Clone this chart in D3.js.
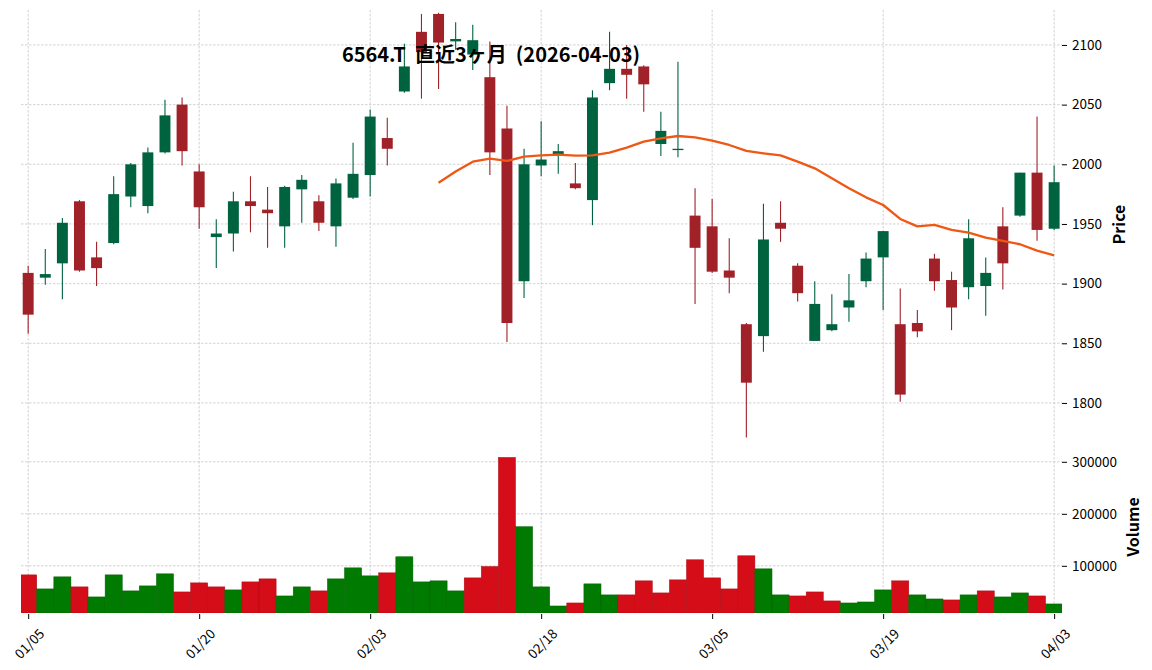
<!DOCTYPE html>
<html>
<head>
<meta charset="utf-8">
<script src="https://cdn.jsdelivr.net/npm/d3@7"></script>
<style>
  html, body { margin: 0; padding: 0; background: #fff; }
  svg { display: block; font-family: "Noto Sans CJK JP", "Noto Sans", sans-serif; }
</style>
</head>
<body>
<svg id="chart" width="1152" height="670"></svg>
<script>
const title = "6564.T  直近3ヶ月  (2026-04-03)";

const dates = [
  "01/05","01/06","01/07","01/08","01/09","01/13","01/14","01/15","01/16","01/19",
  "01/20","01/21","01/22","01/23","01/26","01/27","01/28","01/29","01/30","02/02",
  "02/03","02/04","02/05","02/06","02/09","02/10","02/12","02/13","02/16","02/17",
  "02/18","02/19","02/20","02/24","02/25","02/26","02/27","03/02","03/03","03/04",
  "03/05","03/06","03/09","03/10","03/11","03/12","03/13","03/16","03/17","03/18",
  "03/19","03/23","03/24","03/25","03/26","03/27","03/30","03/31","04/01","04/02",
  "04/03"
];

const opens = [
  1909, 1905, 1917, 1969, 1922, 1934, 1973, 1965, 2010, 2050,
  1994, 1939, 1942, 1969, 1962, 1948, 1979, 1969, 1948, 1972,
  1991, 2022, 2061, 2111, 2126, 2103, 2092, 2073, 2030, 1902,
  1999, 2008, 1984, 1970, 2068, 2080, 2082, 2017, 2012, 1957,
  1948, 1911, 1866, 1856, 1951, 1915, 1852, 1861, 1880, 1902,
  1922, 1866, 1867, 1921, 1903, 1897, 1898, 1948, 1957, 1993,
  1946
];
const highs = [
  1915, 1929, 1955, 1970, 1935, 1990, 2001, 2014, 2054, 2056,
  2000, 1954, 1977, 1990, 1981, 1982, 1991, 1974, 1988, 2018,
  2046, 2039, 2101, 2126, 2127, 2119, 2117, 2103, 2049, 2013,
  2036, 2017, 2001, 2062, 2111, 2100, 2083, 2044, 2086, 1980,
  1971, 1938, 1867, 1967, 1969, 1917, 1902, 1891, 1908, 1926,
  1944, 1896, 1878, 1925, 1910, 1954, 1922, 1964, 1993, 2040,
  1999
];
const lows = [
  1858, 1899, 1887, 1910, 1898, 1933, 1964, 1959, 2009, 1999,
  1946, 1913, 1927, 1943, 1930, 1930, 1951, 1944, 1931, 1971,
  1973, 1999, 2060, 2055, 2063, 2096, 2079, 1991, 1851, 1888,
  1990, 1992, 1979, 1949, 2062, 2055, 2044, 2007, 2006, 1883,
  1909, 1892, 1771, 1843, 1935, 1885, 1852, 1860, 1868, 1897,
  1878, 1801, 1855, 1894, 1861, 1887, 1873, 1895, 1956, 1936,
  1945
];
const closes = [
  1874, 1908, 1951, 1911, 1913, 1975, 2000, 2010, 2041, 2011,
  1964, 1942, 1969, 1965, 1959, 1981, 1987, 1951, 1984, 1992,
  2040, 2013, 2082, 2094, 2102, 2105, 2104, 2010, 1867, 2000,
  2004, 2011, 1980, 2056, 2080, 2075, 2067, 2028, 2013, 1930,
  1910, 1905, 1817, 1937, 1946, 1892, 1883, 1866, 1886, 1921,
  1944, 1807, 1860, 1902, 1880, 1938, 1909, 1917, 1993, 1945,
  1985
];
const volumes = [
  82600, 55600, 78800, 59500, 40200, 82600, 51800, 61400, 84600, 49800,
  67200, 59500, 53700, 69100, 74900, 42100, 59500, 51800, 74900, 96100,
  80700, 86500, 117400, 69100, 71100, 51800, 76800, 98700, 308400, 175200,
  59500, 22800, 28600, 65300, 44100, 44100, 71100, 47900, 73000, 111600,
  76800, 55600, 119300, 94200, 44100, 42100, 49800, 32500, 28600, 30500,
  53700, 71100, 44100, 36300, 34400, 44100, 51800, 40200, 47900, 42100,
  26700
];
// 25-day moving average
const ma25 = [
  null, null, null, null, null, null, null, null, null, null,
  null, null, null, null, null, null, null, null, null, null,
  null, null, null, null, 1984.6, 1993.9, 2002.2, 2004.7, 2002.8, 2006.4,
  2007.5, 2008.1, 2007.3, 2007.5, 2009.8, 2014.0, 2019.0, 2021.8, 2023.7, 2022.6,
  2019.8, 2016.2, 2011.2, 2009.2, 2007.5, 2002.2, 1996.6, 1988.3, 1979.9, 1972.3,
  1965.9, 1954.2, 1948.0, 1949.2, 1945.0, 1942.7, 1938.5, 1935.8, 1933.0, 1927.7,
  1923.7
];
const xTickIdx = [0, 10, 20, 30, 40, 50, 60];
const priceTicks = [1800, 1850, 1900, 1950, 2000, 2050, 2100];
const volumeTicks = [100000, 200000, 300000];

const candleUp = "#006340";
const candleDown = "#a02128";
const volUp = "#007a00";
const volDown = "#d50d18";
const maColor = "#ef5714";
const gridColor = "#c6c6c6";

const left = 21, right = 1062;
const pricePanel = { top: 10, bottom: 439 };
const volPanel = { top: 441, bottom: 613 };

const svg = d3.select("#chart");
svg.append("rect").attr("width", 1152).attr("height", 670).attr("fill", "#fff");

const x = d3.scaleLinear().domain([-0.42, dates.length - 1 + 0.46]).range([left, right]);
const step = x(1) - x(0);
const yPrice = d3.scaleLinear().domain([1769.8, 2129.3]).range([pricePanel.bottom, pricePanel.top]);
const yVol = d3.scaleLinear().domain([9300, 340000]).range([volPanel.bottom, volPanel.top]);

const defs = svg.append("defs");
defs.append("clipPath").attr("id", "clipPrice")
  .append("rect").attr("x", left).attr("y", pricePanel.top)
  .attr("width", right - left).attr("height", pricePanel.bottom - pricePanel.top);
defs.append("clipPath").attr("id", "clipVol")
  .append("rect").attr("x", left).attr("y", volPanel.top)
  .attr("width", right - left).attr("height", volPanel.bottom - volPanel.top);

// grid
const grid = svg.append("g")
  .attr("stroke", gridColor)
  .attr("stroke-width", 0.8)
  .attr("stroke-dasharray", "2.5,1.5");

[pricePanel, volPanel].forEach((p) => {
  grid.selectAll(null)
    .data(xTickIdx)
    .join("line")
    .attr("x1", (d) => x(d)).attr("x2", (d) => x(d))
    .attr("y1", p.top).attr("y2", p.bottom);
});
grid.selectAll(null)
  .data(priceTicks)
  .join("line")
  .attr("x1", left).attr("x2", right)
  .attr("y1", (d) => yPrice(d)).attr("y2", (d) => yPrice(d));
grid.selectAll(null)
  .data(volumeTicks)
  .join("line")
  .attr("x1", left).attr("x2", right)
  .attr("y1", (d) => yVol(d)).attr("y2", (d) => yVol(d));

// volume bars (colour by close vs previous close)
const volColor = (i) => {
  const up = i === 0 ? closes[0] >= opens[0] : closes[i] >= closes[i - 1];
  return up ? volUp : volDown;
};
svg.append("g")
  .attr("clip-path", "url(#clipVol)")
  .selectAll("rect")
  .data(volumes)
  .join("rect")
  .attr("x", (d, i) => x(i) - step / 2)
  .attr("width", step)
  .attr("y", (d) => yVol(d))
  .attr("height", (d) => volPanel.bottom - yVol(d))
  .attr("fill", (d, i) => volColor(i))
  .attr("stroke", (d, i) => d3.color(volColor(i)).darker(0.6))
  .attr("stroke-width", 0.5);

// candles
const bodyW = step * 0.64;
const candles = svg.append("g")
  .attr("clip-path", "url(#clipPrice)")
  .selectAll("g")
  .data(dates.map((d, i) => i))
  .join("g");

candles.append("line")
  .attr("x1", (i) => x(i)).attr("x2", (i) => x(i))
  .attr("y1", (i) => yPrice(highs[i]))
  .attr("y2", (i) => yPrice(lows[i]))
  .attr("stroke", (i) => closes[i] >= opens[i] ? candleUp : candleDown)
  .attr("stroke-width", 1.1);

candles.append("rect")
  .attr("x", (i) => x(i) - bodyW / 2)
  .attr("width", bodyW)
  .attr("y", (i) => yPrice(Math.max(opens[i], closes[i])))
  .attr("height", (i) => Math.max(1.3, Math.abs(yPrice(opens[i]) - yPrice(closes[i]))))
  .attr("fill", (i) => closes[i] >= opens[i] ? candleUp : candleDown);

// moving average
const maLine = d3.line()
  .defined((d) => d != null)
  .x((d, i) => x(i))
  .y((d) => yPrice(d));

svg.append("path")
  .attr("clip-path", "url(#clipPrice)")
  .attr("d", maLine(ma25))
  .attr("fill", "none")
  .attr("stroke", maColor)
  .attr("stroke-width", 2.3)
  .attr("stroke-linejoin", "round");

// axes
const styleAxis = (g) => {
  g.select(".domain").remove();
  g.attr("font-family", null).attr("font-size", 13.5);
  g.selectAll(".tick line").attr("stroke", "#000").attr("stroke-width", 1);
  g.selectAll(".tick text").attr("fill", "#000");
};

svg.append("g")
  .attr("transform", `translate(${right},0)`)
  .call(d3.axisRight(yPrice).tickValues(priceTicks).tickSize(5).tickPadding(5).tickFormat(d3.format("d")))
  .call(styleAxis);

svg.append("g")
  .attr("transform", `translate(${right},0)`)
  .call(d3.axisRight(yVol).tickValues(volumeTicks).tickSize(5).tickPadding(5).tickFormat(d3.format("d")))
  .call(styleAxis);

svg.append("g")
  .attr("transform", `translate(0,${volPanel.bottom + 1})`)
  .call(d3.axisBottom(x).tickValues(xTickIdx).tickSize(5).tickFormat((i) => dates[i]))
  .call(styleAxis)
  .call((g) => g.selectAll(".tick text")
    .attr("y", null)
    .attr("dy", null)
    .attr("text-anchor", "middle")
    .attr("dominant-baseline", "central")
    .attr("transform", "translate(0,29) rotate(-45)"));

// axis labels
svg.append("text")
  .attr("transform", `translate(1118,${(pricePanel.top + pricePanel.bottom) / 2}) rotate(-90)`)
  .attr("text-anchor", "middle")
  .attr("dominant-baseline", "central")
  .attr("font-size", 16)
  .attr("font-weight", "bold")
  .text("Price");

svg.append("text")
  .attr("transform", `translate(1132,${(volPanel.top + volPanel.bottom) / 2}) rotate(-90)`)
  .attr("text-anchor", "middle")
  .attr("dominant-baseline", "central")
  .attr("font-size", 16)
  .attr("font-weight", "bold")
  .text("Volume");

// title
svg.append("text")
  .attr("x", 491)
  .attr("y", 62)
  .attr("text-anchor", "middle")
  .attr("font-size", 20)
  .attr("font-weight", "bold")
  .style("white-space", "pre")
  .text(title);
</script>
</body>
</html>
